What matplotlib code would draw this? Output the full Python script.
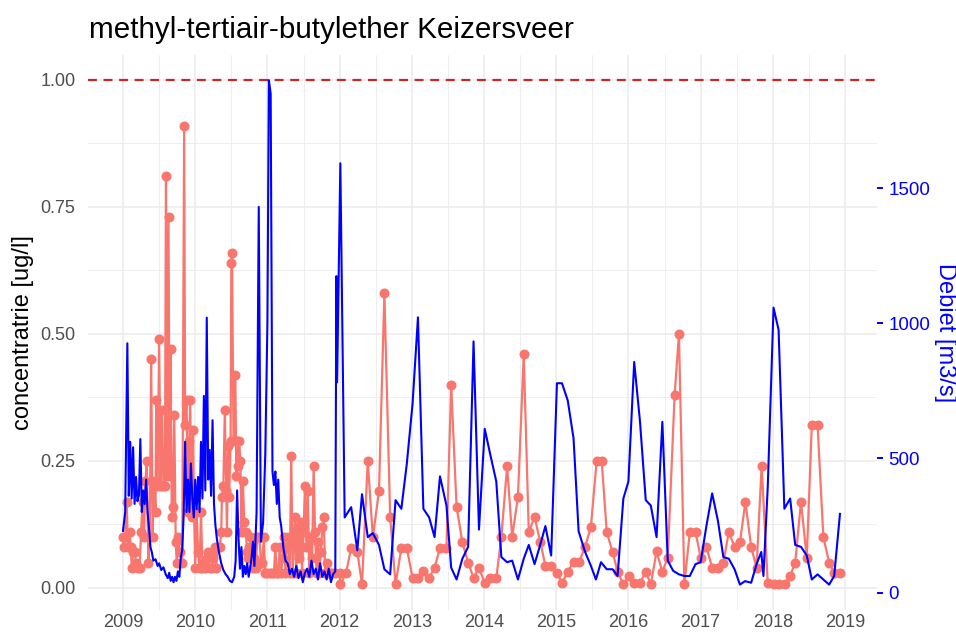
import numpy as np
import matplotlib
matplotlib.use('Agg')
import matplotlib.pyplot as plt

plt.rcParams['font.family'] = ['Liberation Sans', 'DejaVu Sans']

# concentration measurements (decimal year, ug/l)
conc_t = [2009.00, 2009.01, 2009.03, 2009.05, 2009.07, 2009.09, 2009.11, 2009.12, 2009.14, 2009.16,
          2009.18, 2009.21, 2009.23, 2009.25, 2009.27, 2009.29, 2009.31, 2009.33, 2009.35, 2009.37,
          2009.39, 2009.41, 2009.43, 2009.45, 2009.46, 2009.48, 2009.50, 2009.52, 2009.54, 2009.56,
          2009.58, 2009.595, 2009.61, 2009.63, 2009.645, 2009.66, 2009.675, 2009.69, 2009.71, 2009.73,
          2009.745, 2009.76, 2009.79, 2009.82, 2009.847, 2009.86, 2009.88, 2009.90, 2009.92, 2009.93,
          2009.95, 2009.97, 2009.98, 2010.00, 2010.02, 2010.04, 2010.06, 2010.08, 2010.10, 2010.12,
          2010.14, 2010.16, 2010.18, 2010.20, 2010.23, 2010.25, 2010.27, 2010.29, 2010.31, 2010.34,
          2010.36, 2010.37, 2010.39, 2010.41, 2010.43, 2010.44, 2010.455, 2010.47, 2010.49, 2010.50,
          2010.51, 2010.53, 2010.555, 2010.57, 2010.58, 2010.59, 2010.61, 2010.625, 2010.64, 2010.66,
          2010.68, 2010.70, 2010.72, 2010.73, 2010.75, 2010.77, 2010.80, 2010.82, 2010.84, 2010.86,
          2010.89, 2010.91, 2010.93, 2010.95, 2010.97, 2011.00, 2011.03, 2011.06, 2011.09, 2011.11,
          2011.13, 2011.15, 2011.17, 2011.19, 2011.21, 2011.23, 2011.25, 2011.27, 2011.29, 2011.31,
          2011.33, 2011.35, 2011.37, 2011.38, 2011.40, 2011.42, 2011.44, 2011.46, 2011.48, 2011.50,
          2011.52, 2011.54, 2011.56, 2011.58, 2011.60, 2011.62, 2011.64, 2011.66, 2011.68, 2011.70,
          2011.72, 2011.74, 2011.76, 2011.78, 2011.80, 2011.82, 2011.84, 2011.86, 2011.90, 2011.94,
          2012.00, 2012.01, 2012.09, 2012.16, 2012.245, 2012.31, 2012.39, 2012.46, 2012.545, 2012.62,
          2012.70, 2012.775, 2012.855, 2012.93, 2013.01, 2013.085, 2013.16, 2013.24, 2013.315, 2013.39,
          2013.48, 2013.545, 2013.62, 2013.70, 2013.78, 2013.855, 2013.93, 2014.01, 2014.085, 2014.17,
          2014.24, 2014.32, 2014.39, 2014.47, 2014.55, 2014.62, 2014.70, 2014.78, 2014.85, 2014.93,
          2015.01, 2015.08, 2015.16, 2015.24, 2015.32, 2015.40, 2015.48, 2015.56, 2015.63, 2015.70,
          2015.78, 2015.85, 2015.93, 2016.01, 2016.08, 2016.16, 2016.24, 2016.31, 2016.39, 2016.47,
          2016.545, 2016.64, 2016.70, 2016.775, 2016.85, 2016.93, 2017.00, 2017.08, 2017.16, 2017.24,
          2017.315, 2017.39, 2017.47, 2017.545, 2017.62, 2017.70, 2017.775, 2017.845, 2017.93, 2018.01,
          2018.09, 2018.17, 2018.24, 2018.31, 2018.39, 2018.47, 2018.54, 2018.62, 2018.70, 2018.78,
          2018.85, 2018.93]
conc = [0.10, 0.08, 0.10, 0.17, 0.08, 0.11, 0.08, 0.04, 0.07, 0.07,
        0.05, 0.04, 0.04, 0.11, 0.17, 0.10, 0.21, 0.25, 0.05, 0.10,
        0.45, 0.10, 0.21, 0.15, 0.37, 0.20, 0.49, 0.20, 0.35, 0.20,
        0.20, 0.81, 0.22, 0.73, 0.22, 0.47, 0.14, 0.16, 0.34, 0.09,
        0.05, 0.10, 0.07, 0.05, 0.91, 0.32, 0.37, 0.15, 0.29, 0.37,
        0.14, 0.31, 0.18, 0.04, 0.15, 0.07, 0.04, 0.15, 0.04, 0.05,
        0.04, 0.06, 0.07, 0.04, 0.04, 0.06, 0.08, 0.04, 0.08, 0.08,
        0.11, 0.18, 0.20, 0.35, 0.19, 0.11, 0.28, 0.18, 0.29, 0.64,
        0.66, 0.29, 0.42, 0.22, 0.29, 0.24, 0.29, 0.25, 0.11, 0.21,
        0.13, 0.11, 0.07, 0.06, 0.08, 0.10, 0.04, 0.06, 0.04, 0.10,
        0.10, 0.05, 0.05, 0.10, 0.03, 0.03, 0.03, 0.03, 0.03, 0.08,
        0.03, 0.03, 0.08, 0.03, 0.06, 0.10, 0.03, 0.08, 0.10, 0.03,
        0.26, 0.03, 0.10, 0.14, 0.03, 0.12, 0.06, 0.13, 0.03, 0.11,
        0.20, 0.08, 0.19, 0.03, 0.10, 0.06, 0.24, 0.11, 0.03, 0.09,
        0.03, 0.07, 0.12, 0.14, 0.03, 0.05, 0.03, 0.03, 0.03, 0.03,
        0.03, 0.007, 0.03, 0.079, 0.071, 0.007, 0.25, 0.10, 0.19, 0.58,
        0.14, 0.007, 0.079, 0.079, 0.02, 0.02, 0.034, 0.02, 0.04, 0.079,
        0.079, 0.40, 0.16, 0.09, 0.05, 0.02, 0.04, 0.01, 0.02, 0.02,
        0.10, 0.24, 0.10, 0.18, 0.46, 0.11, 0.14, 0.09, 0.044, 0.044,
        0.03, 0.01, 0.032, 0.052, 0.052, 0.081, 0.12, 0.25, 0.25, 0.11,
        0.071, 0.032, 0.007, 0.024, 0.01, 0.01, 0.032, 0.007, 0.072, 0.032,
        0.06, 0.38, 0.50, 0.007, 0.11, 0.11, 0.06, 0.081, 0.04, 0.04,
        0.05, 0.11, 0.081, 0.09, 0.17, 0.081, 0.04, 0.24, 0.01, 0.007,
        0.007, 0.007, 0.024, 0.05, 0.17, 0.06, 0.32, 0.32, 0.10, 0.05,
        0.03, 0.03]

# discharge (decimal year, m3/s)
flow_t = [2009.00, 2009.03, 2009.06, 2009.08, 2009.10, 2009.12, 2009.14, 2009.16, 2009.18, 2009.20,
          2009.22, 2009.24, 2009.26, 2009.28, 2009.30, 2009.32, 2009.34, 2009.36, 2009.38, 2009.40,
          2009.42, 2009.45, 2009.48, 2009.50, 2009.53, 2009.56, 2009.59, 2009.62, 2009.64, 2009.66,
          2009.68, 2009.70, 2009.72, 2009.74, 2009.76, 2009.78, 2009.80, 2009.82, 2009.84, 2009.86,
          2009.88, 2009.90, 2009.92, 2009.94, 2009.96, 2009.98, 2010.00, 2010.02, 2010.04, 2010.06,
          2010.08, 2010.10, 2010.12, 2010.14, 2010.16, 2010.18, 2010.20, 2010.22, 2010.24, 2010.26,
          2010.28, 2010.30, 2010.33, 2010.36, 2010.39, 2010.42, 2010.45, 2010.48, 2010.51, 2010.54,
          2010.56, 2010.58, 2010.60, 2010.62, 2010.64, 2010.66, 2010.68, 2010.70, 2010.72, 2010.74,
          2010.76, 2010.78, 2010.80, 2010.82, 2010.85, 2010.88, 2010.91, 2010.94, 2010.97, 2011.00,
          2011.02, 2011.045, 2011.07, 2011.09, 2011.11, 2011.13, 2011.15, 2011.17, 2011.19, 2011.22,
          2011.25, 2011.28, 2011.31, 2011.34, 2011.37, 2011.40, 2011.43, 2011.46, 2011.49, 2011.52,
          2011.55, 2011.58, 2011.61, 2011.64, 2011.67, 2011.70, 2011.73, 2011.76, 2011.79, 2011.82,
          2011.85, 2011.88, 2011.91, 2011.94, 2011.955, 2011.965, 2012.01, 2012.07, 2012.16, 2012.245,
          2012.31, 2012.39, 2012.46, 2012.545, 2012.62, 2012.70, 2012.775, 2012.855, 2012.93, 2013.01,
          2013.085, 2013.16, 2013.24, 2013.315, 2013.39, 2013.48, 2013.545, 2013.62, 2013.70, 2013.78,
          2013.855, 2013.93, 2014.01, 2014.085, 2014.17, 2014.24, 2014.32, 2014.39, 2014.47, 2014.55,
          2014.62, 2014.70, 2014.78, 2014.85, 2014.93, 2015.01, 2015.08, 2015.16, 2015.24, 2015.31,
          2015.40, 2015.48, 2015.55, 2015.62, 2015.70, 2015.78, 2015.85, 2015.93, 2016.00, 2016.08,
          2016.16, 2016.24, 2016.31, 2016.39, 2016.47, 2016.545, 2016.62, 2016.70, 2016.775, 2016.85,
          2016.93, 2017.00, 2017.08, 2017.16, 2017.24, 2017.315, 2017.39, 2017.47, 2017.545, 2017.615,
          2017.70, 2017.775, 2017.84, 2017.87, 2017.93, 2018.01, 2018.08, 2018.16, 2018.24, 2018.31,
          2018.39, 2018.47, 2018.54, 2018.62, 2018.70, 2018.78, 2018.85, 2018.93]
flow = [230, 300, 925, 360, 560, 350, 540, 330, 430, 340,
        360, 570, 300, 380, 330, 420, 300, 240, 170, 150,
        120, 125, 100, 110, 85, 95, 70, 55, 75, 45,
        60, 40, 60, 45, 80, 60, 130, 160, 290, 560,
        300, 420, 300, 480, 350, 280, 420, 310, 430, 300,
        560, 350, 730, 380, 1020, 420, 530, 360, 640, 330,
        250, 200, 150, 110, 85, 70, 60, 45, 40, 60,
        120, 380, 200, 90, 170, 60, 100, 70, 110, 60,
        90, 130, 190, 100, 300, 1430, 190, 260, 510, 1000,
        1900, 1850, 450, 400, 450, 330, 420, 280, 250, 170,
        120, 110, 70, 90, 60, 100, 55, 80, 40, 75,
        90, 60, 120, 70, 90, 50, 110, 60, 80, 50,
        90, 40, 70, 80, 1174, 780, 1592, 280, 318, 158,
        366, 207, 222, 178, 88, 69, 344, 312, 477, 700,
        1021, 312, 280, 207, 432, 324, 94, 50, 127, 171,
        932, 235, 608, 515, 413, 133, 114, 120, 50, 127,
        178, 107, 180, 248, 139, 777, 777, 713, 573, 229,
        152, 101, 50, 114, 88, 88, 63, 350, 413, 856,
        636, 344, 324, 207, 634, 120, 82, 69, 63, 63,
        107, 114, 248, 369, 267, 133, 127, 88, 31, 44,
        38, 107, 152, 63, 394, 1057, 975, 312, 350, 178,
        171, 139, 50, 69, 50, 31, 63, 293]

years = list(range(2009, 2020))
limit = 1.0

W, H = 956, 639
fig = plt.figure(figsize=(W / 100, H / 100), dpi=100)
ax = fig.add_axes([88 / W, 1 - 610 / H, (877 - 88) / W, (610 - 55) / H])

ax.set_xlim(2008.515, 2019.443)
ax.set_ylim(-0.0433, 1.049)
for s in ax.spines.values():
    s.set_visible(False)

ax.set_xticks(years)
ax.set_xticks([y + 0.5 for y in years[:-1]], minor=True)
ax.set_yticks([0, 0.25, 0.5, 0.75, 1.0])
ax.set_yticks([0.125, 0.375, 0.625, 0.875], minor=True)
ax.set_yticklabels(['0.00', '0.25', '0.50', '0.75', '1.00'])
ax.grid(True, which='major', color='#EBEBEB', lw=1.1)
ax.grid(True, which='minor', color='#EBEBEB', lw=0.6)
ax.set_axisbelow(True)
ax.tick_params(which='both', length=0, labelsize=13, labelcolor='#4D4D4D')
ax.tick_params(axis='y', pad=9)
ax.tick_params(axis='x', pad=3)

ax.plot(conc_t, conc, color='#F8766D', lw=1.6, marker='o', ms=6.2, zorder=3)
ax.axhline(limit, color='#C62828', lw=1.6, ls=(0, (4, 3)), zorder=4)
ax.set_ylabel('concentratrie [ug/l]', fontsize=17, color='black', va='center', ha='center')
ax.yaxis.set_label_coords((23 - 88) / 789, 0.5)

ax2 = ax.twinx()
ax2.set_ylim(-63, 1993)
for s in ax2.spines.values():
    s.set_visible(False)
ax2.plot(flow_t, flow, color='blue', lw=1.5, zorder=5)
ax2.set_yticks([0, 500, 1000, 1500])
ax2.tick_params(axis='y', colors='blue', length=4.3, width=1.4, labelsize=13.5, pad=4)
ax2.set_ylabel('Debiet [m3/s]', fontsize=17, color='blue', rotation=-90, va='center', ha='center')
ax2.yaxis.set_label_coords((945 - 88) / 789, 0.5)

fig.text(89 / W, 1 - 38 / H, 'methyl-tertiair-butylether Keizersveer', fontsize=21.3,
         ha='left', va='baseline')

fig.savefig('out.png', dpi=100)
